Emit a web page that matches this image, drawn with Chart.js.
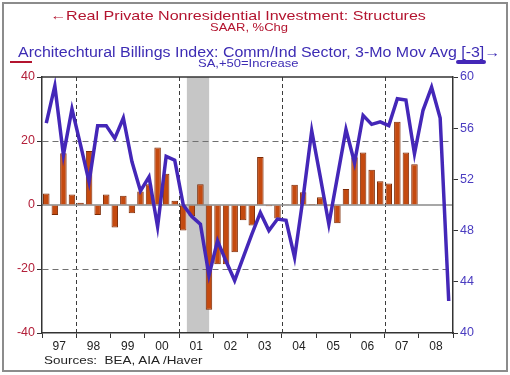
<!DOCTYPE html>
<html>
<head>
<meta charset="utf-8">
<script src="https://cdn.jsdelivr.net/npm/chart.js@4.4.0/dist/chart.umd.min.js"></script>
<style>
  body { margin: 0; width: 510px; height: 375px; position: relative; overflow: hidden; background: #fff;
         font-family: "Liberation Sans", Arial, sans-serif; }
  #frame { position: absolute; left: 2px; top: 2px; width: 502px; height: 366px; border: 2px solid #8c8c8c; }
  canvas { position: absolute; left: 0; top: 0; }
  .t { position: absolute; white-space: nowrap; line-height: 1; transform-origin: 0 0; }
  .red { color: #b3142f; }
  .blue { color: #3d2cb4; }
</style>
</head>
<body>
<div id="frame"></div>
<canvas id="c" width="510" height="375"></canvas>

<div class="t red" style="left:50px;top:9px;font-size:13.5px;transform:scaleX(1.19)">&larr;Real Private Nonresidential Investment: Structures</div>
<div class="t red" style="left:210px;top:22px;font-size:11.5px;transform:scaleX(1.13)">SAAR, %Chg</div>
<div class="t blue" style="left:18px;top:45px;font-size:14px;transform:scaleX(1.14)">Architechtural Billings Index: Comm/Ind Sector, 3-Mo Mov Avg [-3]&rarr;</div>
<div class="t blue" style="left:198px;top:58px;font-size:11.5px;transform:scaleX(1.13)">SA,+50=Increase</div>
<div style="position:absolute;left:10px;top:61px;width:22px;height:1.5px;background:#b3142f"></div>
<div style="position:absolute;left:456px;top:60px;width:30px;height:4px;border-radius:2px;background:#4427b8"></div>
<div class="t" style="left:44px;top:355px;font-size:11.5px;color:#222;transform:scaleX(1.17)">Sources:&nbsp; BEA, AIA /Haver</div>

<script>
// quarters 1997Q1 .. 2008Q4
const YEARS = ['97', '98', '99', '00', '01', '02', '03', '04', '05', '06', '07', '08'];
const QUARTERS = YEARS.flatMap(y => ['Q1', 'Q2', 'Q3', 'Q4'].map(q => y + q));

// Real private nonresidential investment: structures, SAAR %chg
const STRUCTURES = [
  3.6, -3.1, 16.2, 3.3,
  0.7, 16.9, -3.1, 3.3,
  -7.0, 2.9, -2.6, 4.2,
  6.5, 18.0, 9.8, 1.3,
  -8.0, -3.5, 6.5, -32.7,
  -18.5, -18.5, -14.8, -4.8,
  -6.4, 15.0, -0.4, -4.2,
  0.2, 6.3, 4.0, 0.3,
  2.4, -0.4, -5.7, 5.0,
  14.9, 16.4, 11.0, 7.4,
  6.7, 26.0, 16.4, 12.7,
  null, null, null, null
];

// Architecture billings index, comm/ind, 3-mo mov avg, led 3 quarters
const ABI = [
  56.4, 59.3, 53.9, 57.5,
  54.7, 51.8, 56.2, 56.2,
  55.2, 56.8, 53.4, 51.1,
  52.2, 48.3, 53.8, 53.5,
  50.0, 49.1, 48.5, 44.5,
  47.2, 45.6, 44.1, 45.9,
  47.7, 49.4, 48.0, 48.9,
  48.8, 45.9, 50.6, 55.8,
  52.2, 48.5, 52.2, 55.9,
  53.3, 57.0, 56.3, 56.5,
  56.2, 58.3, 58.2, 54.0,
  57.4, 59.2, 56.8, 42.5
];

const LEFT_TICKS = [-40, -20, 0, 20, 40];
const RIGHT_TICKS = [40, 44, 48, 52, 56, 60];
const YEAR_START = 1997, YEAR_END = 2009;
const DASHED_YEARS = [1998, 2001, 2004, 2007];
const RECESSION = [2001.23, 2001.88];

const decor = {
  id: 'decor',
  beforeDraw(chart) {
    const { ctx, chartArea: a, scales } = chart;
    const xs = scales.xYear, y = scales.y;
    ctx.save();
    // recession band
    const r0 = xs.getPixelForValue(RECESSION[0]), r1 = xs.getPixelForValue(RECESSION[1]);
    ctx.fillStyle = '#c6c6c6';
    ctx.fillRect(r0, a.top, r1 - r0, a.bottom - a.top);
    // vertical dashed year lines
    ctx.strokeStyle = '#3c3c3c';
    ctx.lineWidth = 1;
    ctx.setLineDash([4, 3]);
    DASHED_YEARS.forEach(v => {
      const px = Math.round(xs.getPixelForValue(v)) + 0.5;
      ctx.beginPath(); ctx.moveTo(px, a.top); ctx.lineTo(px, a.bottom); ctx.stroke();
    });
    // zero line
    ctx.setLineDash([]);
    ctx.strokeStyle = '#8a8a8a';
    ctx.lineWidth = 1.5;
    const py = y.getPixelForValue(0);
    ctx.beginPath(); ctx.moveTo(a.left, py); ctx.lineTo(a.right, py); ctx.stroke();
    ctx.restore();
  },
  afterDraw(chart) {
    const { ctx, chartArea: a } = chart;
    ctx.save();
    ctx.strokeStyle = '#333';
    ctx.lineWidth = 1.5;
    ctx.beginPath(); ctx.moveTo(a.left, a.top); ctx.lineTo(a.right, a.top); ctx.stroke();
    ctx.restore();
  }
};

const yearTicks = [];
for (let yr = YEAR_START; yr <= YEAR_END; yr++) {
  yearTicks.push(yr);
  if (yr < YEAR_END) yearTicks.push(yr + 0.5);
}

new Chart(document.getElementById('c'), {
  data: {
    labels: QUARTERS,
    datasets: [
      { type: 'line', data: ABI, xAxisID: 'x', yAxisID: 'y1', order: 1,
        borderColor: '#4427b8', borderWidth: 3.5, pointRadius: 0, tension: 0 },
      { type: 'bar', data: STRUCTURES, xAxisID: 'x', yAxisID: 'y', order: 2,
        backgroundColor: '#c44a10', borderColor: '#7d2a05', borderWidth: 1,
        barPercentage: 0.76, categoryPercentage: 1 },
    ],
  },
  options: {
    responsive: false, animation: false,
    layout: { padding: { left: 8, right: 23, top: 77, bottom: 22 } },
    plugins: { legend: { display: false }, tooltip: { enabled: false } },
    scales: {
      x: { type: 'category', display: false, offset: true },
      xYear: {
        type: 'linear', position: 'bottom', min: YEAR_START, max: YEAR_END,
        afterBuildTicks: s => { s.ticks = yearTicks.map(v => ({ value: v })); },
        afterFit: s => { s.height = 20; },
        ticks: { autoSkip: false, maxRotation: 0, padding: 1, color: '#222',
          font: { family: 'Liberation Sans', size: 12 },
          callback: v => Number.isInteger(v) ? '' : YEARS[Math.floor(v) - YEAR_START] },
        grid: { drawOnChartArea: false, tickLength: 5, tickBorderDash: [],
          tickColor: c => Number.isInteger(c.tick.value) ? '#333' : 'rgba(0,0,0,0)' },
        border: { color: '#333', width: 1.5 },
      },
      y: {
        position: 'left', min: -40, max: 40,
        afterBuildTicks: s => { s.ticks = LEFT_TICKS.map(v => ({ value: v })); },
        afterFit: s => { s.width = 34; },
        ticks: { padding: 2, color: '#b3203a', font: { family: 'Liberation Sans', size: 12.5 } },
        grid: { color: c => Math.abs(c.tick.value) === 20 ? '#707070' : 'rgba(0,0,0,0)',
          tickColor: '#333', tickLength: 5, tickBorderDash: [] },
        border: { color: '#333', width: 1.5, dash: [6, 4] },
      },
      y1: {
        position: 'right', min: 40, max: 60,
        afterBuildTicks: s => { s.ticks = RIGHT_TICKS.map(v => ({ value: v })); },
        afterFit: s => { s.width = 34; },
        ticks: { padding: 2, color: '#4a3cc0', font: { family: 'Liberation Sans', size: 12.5 } },
        grid: { drawOnChartArea: false, tickColor: '#333', tickLength: 5, tickBorderDash: [] },
        border: { color: '#333', width: 1.5 },
      },
    },
  },
  plugins: [decor],
});
</script>
</body>
</html>
